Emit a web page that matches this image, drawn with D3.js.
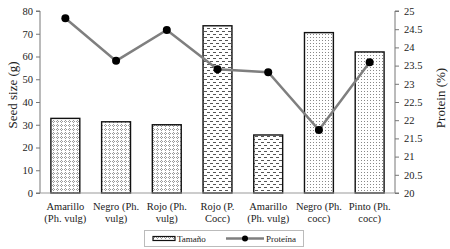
<!DOCTYPE html>
<html lang="en">
<head>
    <meta charset="UTF-8">
    <title></title>
    <style type="text/css">
        html, body { padding:0; margin:0; background:#fff; }
    </style>
</head>
<body>
<script src="https://d3js.org/d3.v7.min.js"></script>
<script type="text/javascript">
    var categories = [
        ['Amarillo', '(Ph. vulg)'],
        ['Negro (Ph.', 'vulg)'],
        ['Rojo (Ph.', 'vulg)'],
        ['Rojo (P.', 'Cocc)'],
        ['Amarillo', '(Ph. vulg)'],
        ['Negro (Ph.', 'cocc)'],
        ['Pinto (Ph.', 'cocc)']
    ];
    var seedSize = [32.8, 31.3, 30, 73.5, 25.5, 70.5, 62];
    var protein = [24.8, 23.63, 24.48, 23.4, 23.32, 21.73, 23.59];
    var barPatterns = ['diamond', 'diamond', 'diamond', 'dash', 'dash', 'dots', 'dots'];
    var leftTicks = [0, 10, 20, 30, 40, 50, 60, 70, 80];
    var rightTicks = [20, 20.5, 21, 21.5, 22, 22.5, 23, 23.5, 24, 24.5, 25];

    var width = 450, height = 249,
        plotLeft = 40, plotRight = 395, plotTop = 11, plotBottom = 193;
    var serif = "'Liberation Serif'";

    var svg = d3.select('body').append('svg')
        .attr('width', width)
        .attr('height', height);

    var defs = svg.append('defs');

    // small diamond-dot pattern
    var p1 = defs.append('pattern').attr('id', 'diamond')
        .attr('patternUnits', 'userSpaceOnUse').attr('width', 4).attr('height', 4);
    p1.append('rect').attr('width', 4).attr('height', 4).attr('fill', '#fff');
    [[1, 0], [0, 1], [2, 1], [1, 2]].forEach(function(d) {
        p1.append('rect').attr('x', d[0]).attr('y', d[1])
            .attr('width', 1).attr('height', 1).attr('fill', '#999');
    });

    // horizontal dashes
    var p2 = defs.append('pattern').attr('id', 'dash')
        .attr('patternUnits', 'userSpaceOnUse').attr('width', 6).attr('height', 6);
    p2.append('rect').attr('width', 6).attr('height', 6).attr('fill', '#fff');
    p2.append('rect').attr('x', 0).attr('y', 1).attr('width', 3).attr('height', 1).attr('fill', '#555');
    p2.append('rect').attr('x', 3).attr('y', 4).attr('width', 3).attr('height', 1).attr('fill', '#555');

    // fine dots
    var p3 = defs.append('pattern').attr('id', 'dots')
        .attr('patternUnits', 'userSpaceOnUse').attr('width', 3).attr('height', 3);
    p3.append('rect').attr('width', 3).attr('height', 3).attr('fill', '#fff');
    p3.append('rect').attr('x', 1).attr('y', 1).attr('width', 1).attr('height', 1).attr('fill', '#888');

    var xScale = d3.scaleBand().domain(d3.range(categories.length))
        .range([plotLeft, plotRight]).paddingInner(0.43).paddingOuter(0.215);
    var yScale = d3.scaleLinear().domain([0, 80]).range([plotBottom, plotTop]);
    var y2Scale = d3.scaleLinear().domain([20, 25]).range([plotBottom, plotTop]);

    // bars
    svg.append('g').selectAll('rect')
        .data(seedSize)
        .enter()
        .append('rect')
        .attr('x', function(d, i) { return xScale(i); })
        .attr('y', function(d) { return yScale(d); })
        .attr('width', xScale.bandwidth())
        .attr('height', function(d) { return yScale(0) - yScale(d); })
        .attr('fill', function(d, i) { return 'url(#' + barPatterns[i] + ')'; })
        .attr('stroke', '#111')
        .attr('stroke-width', 1.4);

    // axes
    var yAxis = d3.axisLeft(yScale).tickValues(leftTicks).tickSize(4).tickPadding(3);
    var gy = svg.append('g').attr('transform', 'translate(' + plotLeft + ',0)').call(yAxis);
    var y2Axis = d3.axisRight(y2Scale).tickValues(rightTicks).tickSize(4).tickPadding(5)
        .tickFormat(function(d) { return d; });
    var gy2 = svg.append('g').attr('transform', 'translate(' + plotRight + ',0)').call(y2Axis);
    [gy, gy2].forEach(function(g) {
        g.selectAll('path, line').attr('stroke', '#777');
        g.select('path').attr('d', g === gy
            ? 'M-4,' + plotTop + 'H0V' + plotBottom + 'H-4'
            : 'M4,' + plotTop + 'H0V' + plotBottom + 'H4');
        g.selectAll('text').attr('fill', '#222')
            .style('font-family', serif).style('font-size', '10.5px');
    });

    svg.append('line')
        .attr('x1', plotLeft).attr('x2', plotRight)
        .attr('y1', plotBottom).attr('y2', plotBottom)
        .attr('stroke', '#999');

    // protein line
    var line = d3.line()
        .x(function(d, i) { return xScale(i) + xScale.bandwidth() / 2; })
        .y(function(d) { return y2Scale(d); });

    svg.append('path')
        .datum(protein)
        .attr('d', line)
        .attr('fill', 'none')
        .attr('stroke', '#7f7f7f')
        .attr('stroke-width', 2.5);

    svg.append('g').selectAll('circle')
        .data(protein)
        .enter()
        .append('circle')
        .attr('cx', function(d, i) { return xScale(i) + xScale.bandwidth() / 2; })
        .attr('cy', function(d) { return y2Scale(d); })
        .attr('r', 4)
        .attr('fill', '#000');

    // category labels
    var xl = svg.append('g').selectAll('text')
        .data(categories)
        .enter()
        .append('text')
        .attr('text-anchor', 'middle')
        .attr('fill', '#222')
        .style('font-family', serif)
        .style('font-size', '10.5px');
    xl.each(function(d, i) {
        var t = d3.select(this);
        d.forEach(function(s, j) {
            t.append('tspan')
                .attr('x', xScale(i) + xScale.bandwidth() / 2)
                .attr('y', 210 + j * 11.5)
                .text(s);
        });
    });

    // axis titles
    svg.append('text')
        .attr('transform', 'translate(17,95) rotate(-90)')
        .attr('text-anchor', 'middle')
        .attr('fill', '#222')
        .style('font-family', serif)
        .style('font-size', '13px')
        .text('Seed size (g)');
    svg.append('text')
        .attr('transform', 'translate(445,98) rotate(-90)')
        .attr('text-anchor', 'middle')
        .attr('fill', '#222')
        .style('font-family', serif)
        .style('font-size', '13px')
        .text('Protein (%)');

    // legend
    var lg = svg.append('g');
    lg.append('rect')
        .attr('x', 144.5).attr('y', 230.5).attr('width', 159).attr('height', 16)
        .attr('fill', '#fff').attr('stroke', '#bbb');
    lg.append('rect')
        .attr('x', 153).attr('y', 236.5).attr('width', 22).attr('height', 4)
        .attr('fill', 'url(#diamond)').attr('stroke', '#111').attr('stroke-width', 1.2);
    lg.append('text').attr('x', 177).attr('y', 242).attr('fill', '#222')
        .style('font-family', serif).style('font-size', '9px').text('Tamaño');
    lg.append('line')
        .attr('x1', 226).attr('x2', 264).attr('y1', 238.5).attr('y2', 238.5)
        .attr('stroke', '#7f7f7f').attr('stroke-width', 2.5);
    lg.append('circle').attr('cx', 245).attr('cy', 238.5).attr('r', 3).attr('fill', '#000');
    lg.append('text').attr('x', 266).attr('y', 242).attr('fill', '#222')
        .style('font-family', serif).style('font-size', '9px').text('Proteína');
</script>
</body>
</html>
